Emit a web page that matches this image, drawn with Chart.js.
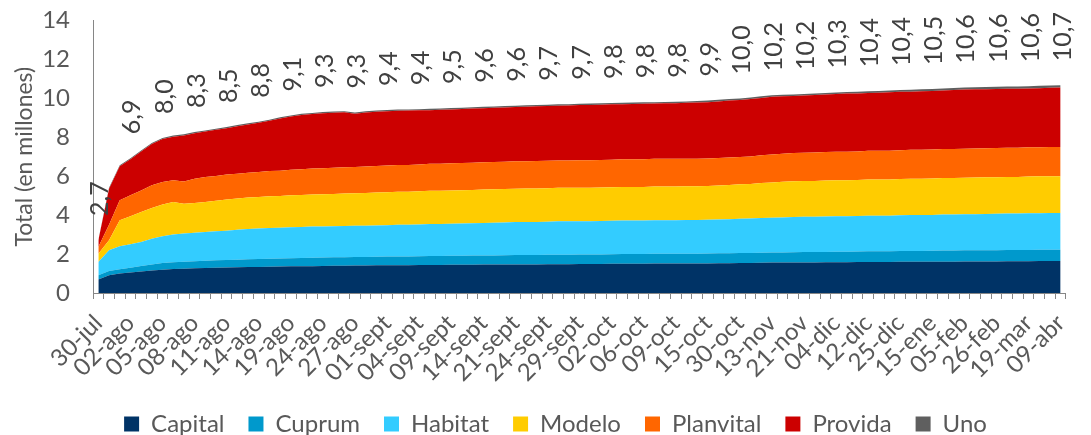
<!DOCTYPE html>
<html>
<head>
<meta charset="utf-8">
<script src="https://cdn.jsdelivr.net/npm/chart.js@4.4.1/dist/chart.umd.min.js"></script>
<style>
html,body{margin:0;padding:0;background:#ffffff;}
#wrap{width:1091px;height:435px;position:relative;}
</style>
</head>
<body>
<div id="wrap"><canvas id="c" width="1091" height="435"></canvas></div>
<script>
// Tick labels shown on the x axis (every third category)
const tickLabels = ['30-jul','02-ago','05-ago','08-ago','11-ago','14-ago','19-ago','24-ago','27-ago','01-sept','04-sept','09-sept','14-sept','21-sept','24-sept','29-sept','02-oct','06-oct','09-oct','15-oct','30-oct','13-nov','21-nov','04-dic','12-dic','25-dic','15-ene','05-feb','26-feb','19-mar','09-abr'];

// Series values (millions), one per category
const capital = [
0.69,0.91,1.00,1.05,1.10,1.15,1.20,1.23,1.25,1.27,
1.28,1.30,1.31,1.32,1.33,1.34,1.35,1.36,1.37,1.38,
1.38,1.39,1.40,1.40,1.41,1.41,1.42,1.42,1.43,1.43,
1.44,1.44,1.44,1.45,1.45,1.45,1.46,1.46,1.46,1.47,
1.47,1.47,1.48,1.48,1.48,1.49,1.49,1.49,1.50,1.50,
1.50,1.50,1.51,1.51,1.51,1.52,1.52,1.52,1.53,1.53,
1.54,1.54,1.55,1.56,1.56,1.57,1.57,1.57,1.58,1.58,
1.58,1.59,1.59,1.59,1.59,1.60,1.60,1.60,1.61,1.61,
1.61,1.62,1.62,1.62,1.62,1.63,1.63,1.63,1.64,1.64,
1.64];
const cuprum = [
0.22,0.22,0.22,0.25,0.29,0.32,0.34,0.35,0.36,0.36,
0.38,0.38,0.38,0.39,0.40,0.40,0.41,0.41,0.42,0.42,
0.43,0.43,0.43,0.44,0.44,0.44,0.44,0.45,0.45,0.45,
0.45,0.46,0.46,0.46,0.46,0.47,0.47,0.47,0.48,0.48,
0.48,0.48,0.48,0.49,0.49,0.49,0.49,0.49,0.49,0.50,
0.50,0.50,0.50,0.50,0.50,0.50,0.50,0.51,0.51,0.51,
0.51,0.51,0.52,0.52,0.52,0.52,0.53,0.53,0.53,0.54,
0.54,0.54,0.55,0.55,0.55,0.56,0.56,0.56,0.56,0.57,
0.57,0.57,0.57,0.58,0.58,0.58,0.58,0.58,0.58,0.58,
0.58];
const habitat = [
0.68,1.06,1.18,1.20,1.23,1.32,1.37,1.42,1.44,1.47,
1.47,1.49,1.51,1.54,1.56,1.57,1.58,1.58,1.59,1.59,
1.60,1.60,1.60,1.60,1.60,1.61,1.61,1.61,1.62,1.62,
1.63,1.64,1.64,1.65,1.66,1.66,1.67,1.68,1.68,1.69,
1.70,1.70,1.70,1.71,1.71,1.71,1.71,1.72,1.72,1.72,
1.72,1.72,1.73,1.73,1.73,1.73,1.73,1.73,1.74,1.75,
1.76,1.77,1.78,1.79,1.80,1.81,1.81,1.81,1.82,1.82,
1.82,1.82,1.83,1.83,1.83,1.83,1.84,1.84,1.84,1.85,
1.85,1.85,1.86,1.86,1.87,1.87,1.87,1.88,1.88,1.89,
1.89];
const modelo = [
0.43,0.52,1.33,1.44,1.54,1.57,1.63,1.67,1.53,1.52,
1.54,1.57,1.60,1.60,1.61,1.62,1.63,1.63,1.64,1.64,
1.65,1.65,1.66,1.67,1.67,1.68,1.69,1.70,1.70,1.70,
1.70,1.71,1.71,1.71,1.71,1.71,1.71,1.72,1.72,1.72,
1.72,1.72,1.72,1.72,1.72,1.72,1.72,1.72,1.72,1.73,
1.73,1.73,1.73,1.73,1.73,1.73,1.73,1.73,1.74,1.76,
1.77,1.78,1.80,1.81,1.83,1.84,1.84,1.84,1.85,1.85,
1.85,1.85,1.86,1.86,1.86,1.86,1.87,1.87,1.87,1.87,
1.87,1.88,1.88,1.88,1.88,1.88,1.88,1.89,1.89,1.89,
1.89];
const planvital = [
0.34,0.79,1.03,1.08,1.11,1.17,1.16,1.12,1.15,1.25,
1.29,1.27,1.28,1.28,1.28,1.28,1.29,1.30,1.31,1.32,
1.33,1.34,1.34,1.35,1.35,1.36,1.36,1.37,1.37,1.38,
1.38,1.39,1.39,1.40,1.40,1.40,1.40,1.40,1.40,1.40,
1.40,1.41,1.41,1.41,1.41,1.41,1.41,1.41,1.41,1.42,
1.42,1.42,1.42,1.42,1.42,1.42,1.42,1.42,1.41,1.41,
1.41,1.41,1.42,1.43,1.44,1.45,1.45,1.46,1.46,1.46,
1.47,1.47,1.47,1.48,1.48,1.48,1.49,1.49,1.49,1.49,
1.49,1.49,1.49,1.50,1.50,1.50,1.50,1.50,1.50,1.50,
1.50];
const provida = [
0.33,1.85,1.75,1.85,2.00,2.12,2.21,2.24,2.36,2.34,
2.33,2.37,2.38,2.44,2.48,2.53,2.58,2.68,2.73,2.79,
2.80,2.82,2.83,2.82,2.74,2.77,2.79,2.79,2.79,2.79,
2.78,2.75,2.77,2.76,2.77,2.78,2.78,2.78,2.79,2.79,
2.80,2.81,2.81,2.81,2.82,2.83,2.84,2.84,2.85,2.83,
2.84,2.85,2.84,2.85,2.86,2.87,2.88,2.89,2.91,2.92,
2.92,2.95,2.95,2.97,2.95,2.93,2.94,2.96,2.95,2.97,
2.98,2.98,2.97,2.98,3.00,3.00,2.98,3.00,3.01,3.01,
3.04,3.04,3.04,3.03,3.03,3.03,3.03,3.02,3.03,3.04,
3.05];
const uno = [
0.03,0.05,0.05,0.05,0.05,0.05,0.05,0.06,0.06,0.06,
0.06,0.06,0.06,0.06,0.06,0.06,0.06,0.06,0.06,0.06,
0.06,0.06,0.06,0.06,0.06,0.06,0.06,0.06,0.06,0.06,
0.06,0.07,0.07,0.07,0.07,0.07,0.07,0.07,0.07,0.07,
0.07,0.07,0.07,0.07,0.07,0.07,0.07,0.07,0.07,0.07,
0.07,0.07,0.07,0.07,0.07,0.07,0.08,0.08,0.08,0.08,
0.08,0.08,0.08,0.08,0.08,0.08,0.08,0.08,0.08,0.08,
0.08,0.09,0.09,0.09,0.09,0.09,0.10,0.10,0.10,0.10,
0.10,0.11,0.11,0.11,0.11,0.11,0.12,0.12,0.12,0.12,
0.12];

const seriesNames = ['Capital','Cuprum','Habitat','Modelo','Planvital','Provida','Uno'];
const seriesColors = ['#003366','#0099CC','#33CCFF','#FFCC00','#FF6600','#CC0000','#5F5F5F'];
const seriesData = [capital, cuprum, habitat, modelo, planvital, provida, uno];

// Category list: one per data point, labelled every third point
const categories = capital.map((v, i) => (i % 3 === 0 ? tickLabels[i / 3] : ''));

const FONT = 'Lato';
const TEXT = '#595959';
const AXIS = '#868686';

const totalsPlugin = {
  id: 'totals',
  afterDatasetsDraw(chart) {
    const { ctx } = chart;
    const x = chart.scales.x, y = chart.scales.y;
    ctx.save();
    ctx.font = '25px ' + FONT;
    ctx.fillStyle = '#404040';
    ctx.textAlign = 'left';
    ctx.textBaseline = 'middle';
    for (let i = 0; i < categories.length; i += 3) {
      let s = 0;
      chart.data.datasets.forEach(d => { s += d.data[i]; });
      const px = x.getPixelForValue(i);
      const py = y.getPixelForValue(s);
      ctx.save();
      ctx.translate(px + 2, py - 24);
      ctx.rotate(-Math.PI / 2);
      ctx.fillText(s.toFixed(1).replace('.', ','), 0, 0);
      ctx.restore();
    }
    ctx.restore();
  }
};

new Chart(document.getElementById('c'), {
  type: 'line',
  data: {
    labels: categories,
    datasets: seriesData.map((d, k) => ({
      label: seriesNames[k],
      data: d,
      backgroundColor: seriesColors[k],
      borderColor: 'rgba(0,0,0,0)',
      borderWidth: 0,
      pointRadius: 0,
      pointHoverRadius: 0,
      tension: 0,
      fill: k === 0 ? 'origin' : '-1'
    }))
  },
  options: {
    responsive: false,
    animation: false,
    devicePixelRatio: 1,
    layout: { padding: { top: 4, right: 8, left: 28, bottom: -11 } },
    plugins: {
      legend: {
        position: 'bottom',
        labels: {
          boxWidth: 15,
          boxHeight: 15,
          padding: 24,
          color: TEXT,
          font: { family: FONT, size: 24 }
        }
      },
      tooltip: { enabled: false },
      title: { display: false }
    },
    scales: {
      x: {
        type: 'category',
        offset: true,
        grid: { offset: true, drawOnChartArea: false, drawTicks: true, tickLength: 6, color: AXIS },
        border: { display: true, color: AXIS, width: 1 },
        ticks: {
          autoSkip: false,
          maxRotation: 45,
          minRotation: 45,
          padding: 10,
          color: TEXT,
          font: { family: FONT, size: 24 },
          callback: (v, i) => categories[i]
        },
        afterFit: s => { s.height = 95; }
      },
      y: {
        stacked: true,
        min: 0,
        max: 14,
        ticks: { stepSize: 2, color: TEXT, font: { family: FONT, size: 24 }, padding: 6 },
        grid: { display: false, drawTicks: true, tickLength: 17 },
        border: { display: true, color: AXIS, width: 1 },
        title: { display: true, text: 'Total (en millones)', color: TEXT, font: { family: FONT, size: 23 }, padding: { top: -17, bottom: 4 } },
        afterFit: s => { s.width = 65; }
      }
    }
  },
  plugins: [totalsPlugin]
});
</script>
</body>
</html>
